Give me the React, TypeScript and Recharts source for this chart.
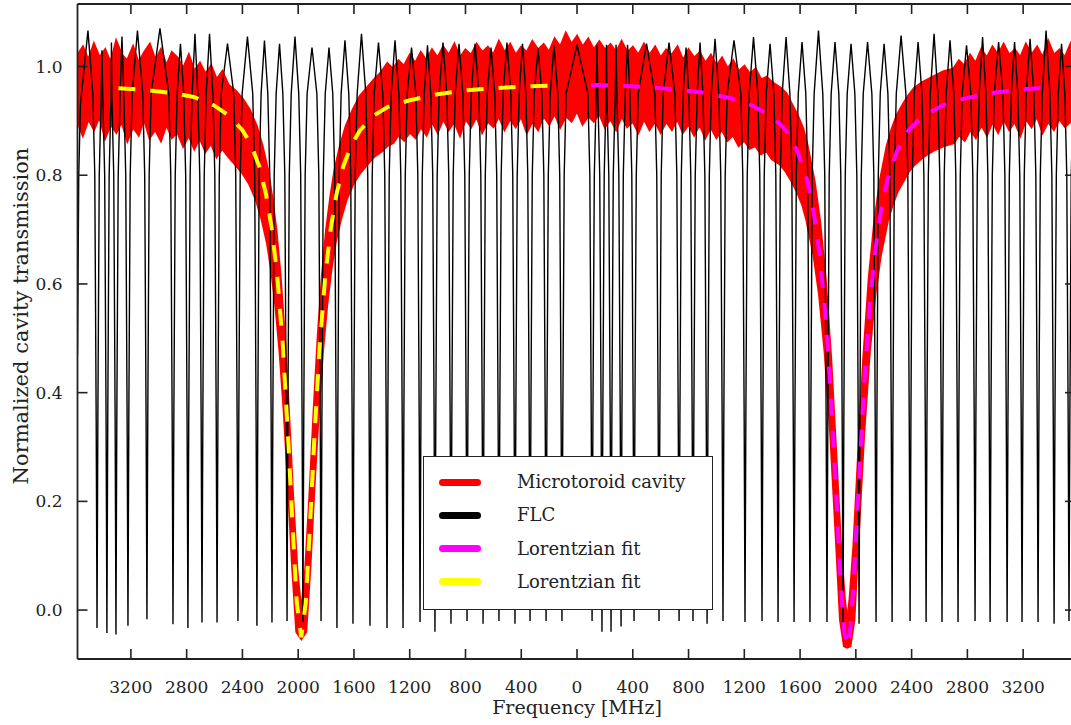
import React from 'react';
import { ComposedChart, Line, Area, XAxis, YAxis, Legend } from 'recharts';

const FONT = '"DejaVu Serif", serif';
const INK = '#222222';

// ---- axes ----
const xDomain: [number, number] = [-3583, 3572];
const yDomain: [number, number] = [-0.09, 1.115];
const xTickValues = [-3200, -2800, -2400, -2000, -1600, -1200, -800, -400, 0, 400, 800, 1200, 1600, 2000, 2400, 2800, 3200];
const yTickValues = [0, 0.2, 0.4, 0.6, 0.8, 1.0];
const xTitle = 'Frequency [MHz]';
const yTitle = 'Normalized cavity transmission';

// ---- FLC comb (black) ----
const flcLeadFreq = [-3583, -3574, -3562, -3508];
const flcLeadVal = [0.47, 0.8, 0.93, 1.066];
const flcDipFreq = [
  -3443, -3372, -3307, -3221, -3085, -2898, -2791, -2690, -2582, -2432,
  -2296, -2188, -2080, -1966, -1836, -1722, -1607, -1485, -1363, -1248,
  -1126, -1019, -904, -789, -674, -560, -445, -337, -222, -108,
  108, 179, 244, 316, 409, 588, 732, 832, 933, 1047,
  1205, 1327, 1442, 1557, 1671, 1793, 1908, 2023, 2145, 2260,
  2389, 2504, 2618, 2733, 2855, 2963, 3085, 3192, 3307, 3422, 3529,
];
const flcDipMin = [
  -0.033, -0.042, -0.045, -0.029, -0.017, -0.026, -0.033, -0.023, -0.023, -0.02,
  -0.029, -0.023, -0.02, -0.022, -0.02, -0.033, -0.025, -0.029, -0.033, -0.033,
  -0.022, -0.04, -0.025, -0.02, -0.025, -0.02, -0.025, -0.02, -0.02, -0.02,
  -0.02, -0.04, -0.04, -0.03, -0.02, -0.02, -0.02, -0.02, -0.025, -0.02,
  -0.022, -0.02, -0.022, -0.022, -0.022, -0.022, -0.03, -0.025, -0.022, -0.022,
  -0.02, -0.022, -0.022, -0.022, -0.02, -0.022, -0.022, -0.022, -0.022, -0.025, -0.02,
];
// peak value of the FLC trace between consecutive dips
const flcPeakVal = [
  1.03, 1.044, 1.055, 1.066, 1.07, 1.042, 1.06, 1.06, 1.042, 1.055,
  1.048, 1.042, 1.055, 1.035, 1.035, 1.048, 1.06, 1.044, 1.048, 1.035,
  1.039, 1.044, 1.042, 1.042, 1.035, 1.044, 1.042, 1.033, 1.039, 1.04,
  1.04, 1.04, 1.04, 1.04, 1.042, 1.044, 1.035, 1.044, 1.051, 1.048,
  1.054, 1.042, 1.054, 1.045, 1.066, 1.045, 1.042, 1.045, 1.042, 1.057,
  1.045, 1.06, 1.048, 1.039, 1.054, 1.045, 1.045, 1.051, 1.066, 1.042,
];
// shape of one FLC dip around its centre (MHz offset, level; null = dip minimum)
const flcProfileOffset = [-30, -16, -6, 0, 6, 16, 30];
const flcProfileLevel: (number | null)[] = [0.95, 0.8, 0.35, null, 0.35, 0.8, 0.95];
const flcTailFreq = [3572];
const flcTailVal = [1.02];

// ---- Microtoroid cavity (red noisy band): frequency, lower edge, upper edge ----
const redF = [
  -3583, -3545, -3505, -3465, -3425, -3385, -3345, -3305, -3265, -3225,
  -3185, -3145, -3105, -3065, -3025, -2985, -2945, -2905, -2865, -2825,
  -2785, -2745, -2705, -2665, -2625, -2585, -2545, -2500, -2450, -2400,
  -2350, -2300, -2260, -2220, -2190, -2160, -2130, -2100, -2070, -2040,
  -2010, -1978, -1946, -1916, -1886, -1856, -1826, -1796, -1766, -1736,
  -1696, -1656, -1606, -1556, -1506, -1456,
  -1400, -1360, -1320, -1280, -1240, -1200, -1160, -1120, -1080, -1040,
  -1000, -960, -920, -880, -840, -800, -760, -720, -680, -640,
  -600, -560, -520, -480, -440, -400, -360, -320, -280, -240,
  -200, -160, -120, -80, -40, 0, 40, 80, 120, 160,
  200, 240, 280, 320, 360, 400, 440, 480, 520, 560,
  600, 640, 680, 720, 760, 800, 840, 880, 920, 960,
  1000, 1040, 1080, 1120, 1160, 1200, 1240, 1280, 1320, 1360,
  1400, 1460, 1500, 1540, 1580, 1620, 1650, 1700, 1740, 1780,
  1820, 1860, 1890, 1918, 1938, 1958, 1986, 2016, 2056, 2096,
  2136, 2176, 2226, 2260, 2296, 2340, 2376, 2420, 2476, 2550,
  2626, 2700, 2740, 2780, 2820, 2860, 2900, 2940, 2980, 3020,
  3060, 3100, 3140, 3180, 3220, 3260, 3300, 3340, 3380, 3420,
  3460, 3500, 3540, 3572,
];
const redLo = [
  0.9, 0.875, 0.905, 0.885, 0.91, 0.87, 0.895, 0.88, 0.9, 0.865,
  0.89, 0.875, 0.905, 0.87, 0.885, 0.865, 0.895, 0.87, 0.88, 0.855,
  0.875, 0.85, 0.87, 0.845, 0.86, 0.835, 0.85, 0.835, 0.82, 0.805,
  0.785, 0.755, 0.72, 0.675, 0.625, 0.56, 0.475, 0.365, 0.23, 0.08,
  -0.04, -0.052, -0.04, 0.08, 0.23, 0.365, 0.475, 0.56, 0.625, 0.675,
  0.72, 0.755, 0.785, 0.805, 0.82, 0.835,
  0.845, 0.855, 0.86, 0.875, 0.865, 0.88, 0.87, 0.89, 0.875, 0.9,
  0.88, 0.905, 0.885, 0.9, 0.875, 0.905, 0.89, 0.91, 0.88, 0.9,
  0.89, 0.91, 0.885, 0.905, 0.89, 0.91, 0.88, 0.9, 0.885, 0.91,
  0.895, 0.915, 0.89, 0.91, 0.9, 0.92, 0.895, 0.91, 0.9, 0.915,
  0.89, 0.905, 0.885, 0.91, 0.89, 0.9, 0.88, 0.905, 0.885, 0.9,
  0.88, 0.9, 0.885, 0.905, 0.88, 0.895, 0.875, 0.895, 0.87, 0.89,
  0.87, 0.885, 0.865, 0.875, 0.855, 0.865, 0.85, 0.855, 0.84, 0.845,
  0.83, 0.82, 0.807, 0.79, 0.77, 0.745, 0.716, 0.653, 0.58, 0.474,
  0.324, 0.132, -0.018, -0.066, -0.068, -0.066, -0.018, 0.132, 0.324, 0.474,
  0.58, 0.653, 0.716, 0.745, 0.77, 0.79, 0.807, 0.82, 0.833, 0.845,
  0.854, 0.86, 0.875, 0.865, 0.885, 0.87, 0.895, 0.875, 0.9, 0.88,
  0.905, 0.885, 0.9, 0.875, 0.905, 0.89, 0.91, 0.88, 0.9, 0.885,
  0.905, 0.89, 0.9, 0.89,
];
const redHi = [
  1.02, 1.035, 1.01, 1.04, 1.015, 1.03, 1.005, 1.045, 1.02, 1.01,
  1.035, 1.005, 1.025, 1.04, 1.01, 1.03, 1.0, 1.025, 1.015, 0.995,
  1.02, 0.99, 1.005, 0.985, 1.0, 0.975, 0.99, 0.965, 0.955, 0.94,
  0.92, 0.89, 0.855, 0.81, 0.76, 0.7, 0.615, 0.505, 0.365, 0.21,
  0.075, -0.01, 0.075, 0.21, 0.365, 0.505, 0.615, 0.7, 0.76, 0.81,
  0.855, 0.89, 0.92, 0.945, 0.96, 0.975,
  0.99, 1.005, 0.995, 1.01, 1.0, 1.02, 1.005, 1.025, 1.01, 1.03,
  1.015, 1.035, 1.02, 1.04, 1.015, 1.03, 1.02, 1.04, 1.025, 1.035,
  1.02, 1.045, 1.025, 1.04, 1.02, 1.035, 1.025, 1.045, 1.03, 1.04,
  1.025, 1.05, 1.035, 1.06, 1.04, 1.055, 1.035, 1.05, 1.03, 1.045,
  1.03, 1.04, 1.025, 1.045, 1.025, 1.035, 1.02, 1.04, 1.02, 1.035,
  1.015, 1.03, 1.02, 1.035, 1.01, 1.03, 1.015, 1.025, 1.005, 1.02,
  1.0, 1.015, 0.995, 1.01, 0.99, 1.0, 0.985, 0.995, 0.975, 0.98,
  0.97, 0.96, 0.95, 0.93, 0.91, 0.885, 0.855, 0.79, 0.715, 0.61,
  0.46, 0.267, 0.117, 0.018, -0.025, 0.018, 0.117, 0.267, 0.46, 0.61,
  0.715, 0.79, 0.855, 0.885, 0.91, 0.93, 0.945, 0.96, 0.97, 0.98,
  0.99, 0.995, 1.01, 1.0, 1.02, 1.005, 1.03, 1.015, 1.035, 1.02,
  1.04, 1.02, 1.03, 1.015, 1.04, 1.02, 1.035, 1.015, 1.045, 1.02,
  1.03, 1.015, 1.04, 1.02,
];

// ---- Lorentzian fits ----
const yellowF = [
  -3290, -3100, -2900, -2750, -2600, -2500, -2400, -2340, -2280, -2230,
  -2190, -2150, -2110, -2070, -2040, -2010, -1978, -1946, -1916, -1886,
  -1846, -1806, -1766, -1726, -1676, -1616, -1556, -1456, -1356, -1200,
  -1000, -800, -600, -400, -170,
];
const yellowV = [
  0.96, 0.957, 0.951, 0.944, 0.928, 0.91, 0.883, 0.857, 0.817, 0.764,
  0.703, 0.614, 0.486, 0.306, 0.153, 0.013, -0.05, 0.013, 0.153, 0.306,
  0.486, 0.614, 0.703, 0.764, 0.817, 0.857, 0.883, 0.91, 0.926, 0.938,
  0.949, 0.956, 0.96, 0.963, 0.965,
];
const magentaF = [
  100, 300, 500, 700, 900, 1100, 1250, 1400, 1500, 1580,
  1650, 1700, 1740, 1780, 1820, 1860, 1890, 1918, 1938, 1958,
  1986, 2016, 2056, 2096, 2136, 2176, 2226, 2296, 2376, 2476,
  2626, 2776, 3000, 3200, 3340,
];
const magentaV = [
  0.966, 0.965, 0.962, 0.958, 0.952, 0.942, 0.929, 0.908, 0.882, 0.845,
  0.791, 0.728, 0.655, 0.549, 0.399, 0.207, 0.057, -0.042, -0.066, -0.042,
  0.057, 0.207, 0.399, 0.549, 0.655, 0.728, 0.791, 0.845, 0.882, 0.908,
  0.929, 0.941, 0.952, 0.958, 0.961,
];

// ---- legend ----
const legendLabels = ['Microtoroid cavity', 'FLC', 'Lorentzian fit', 'Lorentzian fit'];
const legendColors = ['#ff0000', '#000000', '#ff00ff', '#ffff00'];

// ---- build tables for the library ----
const flcData: { f: number; v: number }[] = [];
flcLeadFreq.forEach((f, i) => flcData.push({ f, v: flcLeadVal[i] }));
flcDipFreq.forEach((f0, i) => {
  flcProfileOffset.forEach((o, k) => {
    const lvl = flcProfileLevel[k];
    flcData.push({ f: f0 + o, v: lvl === null ? flcDipMin[i] : lvl });
  });
  if (i < flcPeakVal.length) {
    flcData.push({ f: (f0 + flcDipFreq[i + 1]) / 2, v: flcPeakVal[i] });
  }
});
flcTailFreq.forEach((f, i) => flcData.push({ f, v: flcTailVal[i] }));

const redData = redF.map((f, i) => ({ f, band: [redLo[i], redHi[i]] }));
const yellowData = yellowF.map((f, i) => ({ f, v: yellowV[i] }));
const magentaData = magentaF.map((f, i) => ({ f, v: magentaV[i] }));

// ---- ticks ----
const TICK_LEN = 10;
const BottomTick = (p: any) => (
  <g>
    <line x1={p.x} y1={p.y} x2={p.x} y2={p.y - TICK_LEN} stroke={INK} strokeWidth={1.6} />
    <text x={p.x} y={p.y + 28} textAnchor="middle" dominantBaseline="central" fontFamily={FONT} fontSize={17} fill={INK}>
      {Math.abs(p.payload.value)}
    </text>
  </g>
);
const TopTick = (p: any) => (
  <line x1={p.x} y1={p.y} x2={p.x} y2={p.y + TICK_LEN} stroke={INK} strokeWidth={1.6} />
);
const LeftTick = (p: any) => (
  <g>
    <line x1={p.x} y1={p.y} x2={p.x + TICK_LEN} y2={p.y} stroke={INK} strokeWidth={1.6} />
    <text x={p.x - 15} y={p.y} textAnchor="end" dominantBaseline="central" fontFamily={FONT} fontSize={17} fill={INK}>
      {Number(p.payload.value).toFixed(1)}
    </text>
  </g>
);
const RightTick = (p: any) => (
  <line x1={p.x} y1={p.y} x2={p.x - TICK_LEN} y2={p.y} stroke={INK} strokeWidth={1.6} />
);

const XTitle = () => (
  <text x={577} y={707} textAnchor="middle" dominantBaseline="central" fontFamily={FONT} fontSize={19} fill={INK}>
    {xTitle}
  </text>
);
const YTitle = () => (
  <text x={21} y={316} transform="rotate(-90 21 316)" textAnchor="middle" dominantBaseline="central" fontFamily={FONT} fontSize={21} fill={INK}>
    {yTitle}
  </text>
);

const LegendBox = () => (
  <div
    style={{
      position: 'relative',
      width: 290,
      height: 154,
      boxSizing: 'border-box',
      border: `1.8px solid ${INK}`,
      background: '#ffffff',
      fontFamily: FONT,
    }}
  >
    {legendLabels.map((lab, i) => (
      <div key={i} style={{ position: 'absolute', left: 0, top: 25 + i * 33.3 - 12, height: 24, width: 280 }}>
        <span
          style={{
            position: 'absolute',
            left: 15,
            top: 8.5,
            width: 42,
            height: 7,
            borderRadius: 3.5,
            background: legendColors[i],
          }}
        />
        <span
          style={{
            position: 'absolute',
            left: 93,
            top: 0,
            lineHeight: '24px',
            fontSize: 18,
            whiteSpace: 'nowrap',
            color: INK,
          }}
        >
          {lab}
        </span>
      </div>
    ))}
  </div>
);

const axisLineStyle = { stroke: INK, strokeWidth: 1.8 };

export default function App() {
  return (
    <div
      style={{
        position: 'absolute',
        left: 0,
        top: 0,
        width: 1071,
        height: 725,
        overflow: 'hidden',
        background: '#ffffff',
        fontFamily: FONT,
      }}
    >
      <ComposedChart width={1080} height={725} margin={{ top: 3, right: 4, bottom: 0, left: 8 }}>
        <XAxis
          xAxisId="b"
          type="number"
          dataKey="f"
          orientation="bottom"
          domain={xDomain}
          allowDataOverflow
          ticks={xTickValues}
          interval={0}
          height={66}
          tickSize={0}
          tickMargin={0}
          tickLine={false}
          axisLine={axisLineStyle}
          tick={BottomTick}
          label={XTitle}
        />
        <XAxis
          xAxisId="t"
          type="number"
          dataKey="f"
          orientation="top"
          domain={xDomain}
          allowDataOverflow
          ticks={xTickValues}
          interval={0}
          height={1}
          tickSize={0}
          tickMargin={0}
          tickLine={false}
          axisLine={axisLineStyle}
          tick={TopTick}
        />
        <YAxis
          yAxisId="l"
          type="number"
          orientation="left"
          domain={yDomain}
          allowDataOverflow
          ticks={yTickValues}
          interval={0}
          width={69.5}
          tickSize={0}
          tickMargin={0}
          tickLine={false}
          axisLine={axisLineStyle}
          tick={LeftTick}
          label={YTitle}
        />
        <YAxis
          yAxisId="r"
          type="number"
          orientation="right"
          domain={yDomain}
          allowDataOverflow
          ticks={yTickValues}
          interval={0}
          width={1}
          tickSize={0}
          tickMargin={0}
          tickLine={false}
          axisLine={axisLineStyle}
          tick={RightTick}
        />
        <Line
          xAxisId="b"
          yAxisId="l"
          data={flcData}
          dataKey="v"
          type="linear"
          stroke="#000000"
          strokeWidth={1.4}
          dot={false}
          activeDot={false}
          isAnimationActive={false}
          name="FLC"
        />
        <Area
          xAxisId="b"
          yAxisId="l"
          data={redData}
          dataKey="band"
          type="linear"
          stroke="#ff0000"
          strokeWidth={3}
          fill="#ff0000"
          fillOpacity={1}
          dot={false}
          activeDot={false}
          isAnimationActive={false}
          name="Microtoroid cavity"
        />
        <Line
          xAxisId="b"
          yAxisId="l"
          data={yellowData}
          dataKey="v"
          type="linear"
          stroke="#ffff00"
          strokeWidth={4}
          strokeDasharray="17 15"
          dot={false}
          activeDot={false}
          isAnimationActive={false}
          name="Lorentzian fit"
        />
        <Line
          xAxisId="b"
          yAxisId="l"
          data={magentaData}
          dataKey="v"
          type="linear"
          stroke="#ff00ff"
          strokeWidth={4}
          strokeDasharray="17 15"
          dot={false}
          activeDot={false}
          isAnimationActive={false}
          name="Lorentzian fit "
        />
        <Legend
          layout="vertical"
          align="center"
          verticalAlign="middle"
          width={290}
          height={154}
          wrapperStyle={{ left: 423, top: 456, width: 290, height: 154 }}
          content={LegendBox}
        />
      </ComposedChart>
    </div>
  );
}
